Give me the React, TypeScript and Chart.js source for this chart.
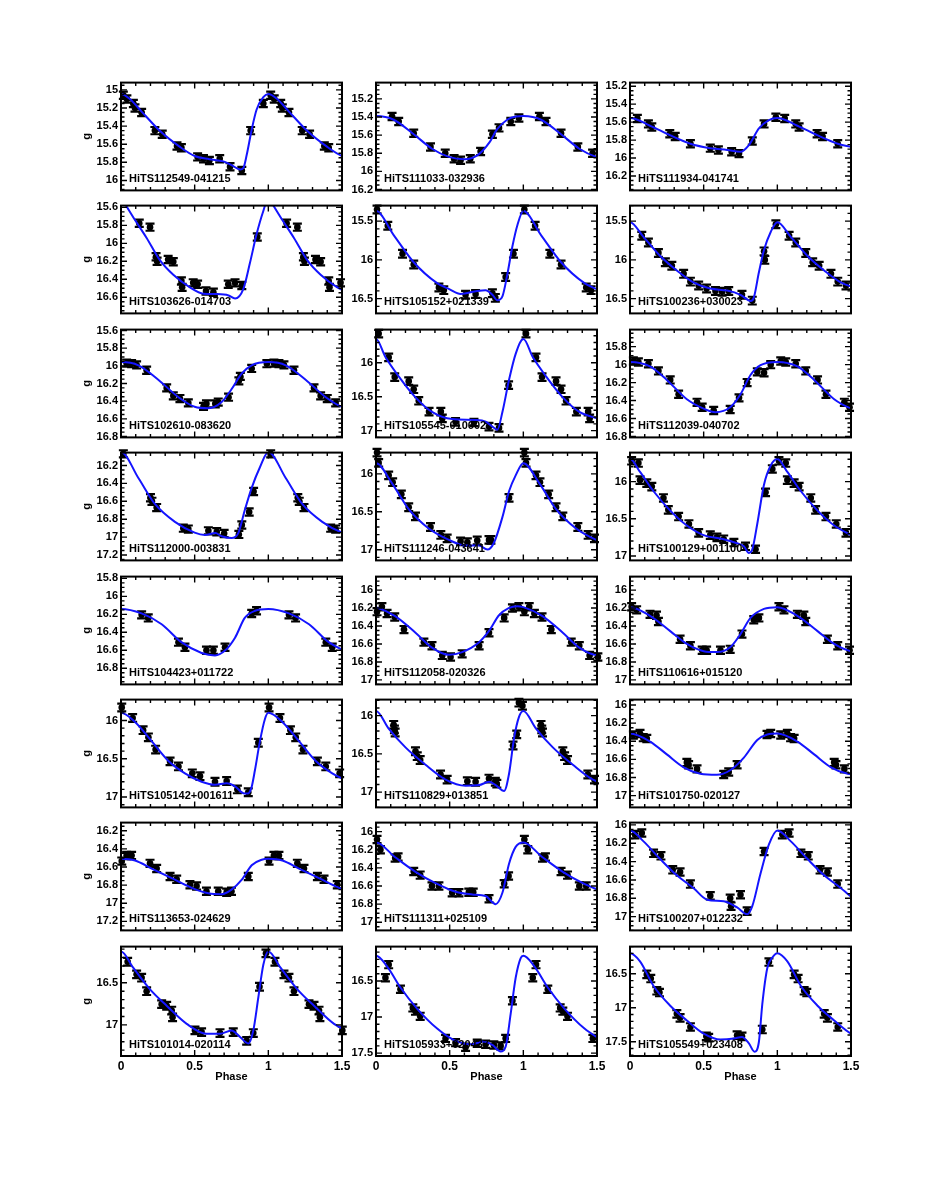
import React, { useEffect, useRef } from "react";
import { Chart, registerables } from "chart.js";

Chart.register(...registerables);

// ---------------- data ----------------
const starNames: string[] = [
  "HiTS112549-041215", "HiTS111033-032936", "HiTS111934-041741",
  "HiTS103626-014703", "HiTS105152+021339", "HiTS100236+030023",
  "HiTS102610-083620", "HiTS105545-010602", "HiTS112039-040702",
  "HiTS112000-003831", "HiTS111246-043641", "HiTS100129+001100",
  "HiTS104423+011722", "HiTS112058-020326", "HiTS110616+015120",
  "HiTS105142+001611", "HiTS110829+013851", "HiTS101750-020127",
  "HiTS113653-024629", "HiTS111311+025109", "HiTS100207+012232",
  "HiTS101014-020114", "HiTS105933+020437", "HiTS105549+023408",
];

// magnitude axis: value at the top edge, value at the bottom edge, label step
const magTop: number[] = [
  14.92, 15.02, 15.16,
  15.58, 15.3, 15.3,
  15.59, 15.51, 15.61,
  16.056, 15.72, 15.61,
  15.78, 15.85, 15.85,
  15.727, 15.79, 15.94,
  16.11, 15.9, 15.975,
  16.07, 16.023, 16.1,
];
const magBottom: number[] = [
  16.11, 16.21, 16.36,
  16.78, 16.69, 16.69,
  16.81, 17.1, 16.81,
  17.26, 17.14, 17.06,
  16.98, 17.05, 17.05,
  17.135, 17.2, 17.13,
  17.3, 17.09, 17.15,
  17.37, 17.54, 17.71,
];
const magStep: number[] = [
  0.2, 0.2, 0.2,
  0.2, 0.5, 0.5,
  0.2, 0.5, 0.2,
  0.2, 0.5, 0.5,
  0.2, 0.2, 0.2,
  0.5, 0.5, 0.2,
  0.2, 0.2, 0.2,
  0.5, 0.5, 0.5,
];
const magErr: number[] = [
  0.04, 0.04, 0.04,
  0.04, 0.05, 0.05,
  0.04, 0.055, 0.04,
  0.04, 0.05, 0.05,
  0.04, 0.04, 0.04,
  0.05, 0.05, 0.04,
  0.04, 0.04, 0.04,
  0.045, 0.05, 0.055,
];

// observed points [phase (0-1), g mag]
const observations: number[][][] = [
  [[0.016,15.06],[0.04,15.10],[0.084,15.15],[0.095,15.20],[0.14,15.25],[0.23,15.45],[0.28,15.49],[0.38,15.62],[0.41,15.64],[0.52,15.74],[0.56,15.76],[0.60,15.78],[0.67,15.76],[0.74,15.85],[0.82,15.89],[0.88,15.45],[0.966,15.15]],
  [[0.109,15.395],[0.154,15.45],[0.256,15.58],[0.37,15.73],[0.47,15.80],[0.53,15.86],[0.574,15.877],[0.64,15.86],[0.71,15.78],[0.79,15.59],[0.835,15.52],[0.915,15.45],[0.97,15.41]],
  [[0.05,15.56],[0.125,15.62],[0.148,15.655],[0.27,15.73],[0.307,15.76],[0.41,15.84],[0.545,15.89],[0.60,15.91],[0.69,15.93],[0.74,15.95],[0.83,15.81],[0.91,15.62],[0.99,15.545]],
  [[0.124,15.776],[0.197,15.82],[0.238,16.15],[0.245,16.2],[0.32,16.18],[0.355,16.205],[0.41,16.42],[0.415,16.49],[0.49,16.44],[0.52,16.455],[0.577,16.53],[0.627,16.545],[0.728,16.455],[0.774,16.44],[0.82,16.47],[0.925,15.93]],
  [[0.007,15.35],[0.08,15.56],[0.18,15.92],[0.256,16.06],[0.427,16.355],[0.46,16.39],[0.608,16.45],[0.676,16.44],[0.79,16.43],[0.81,16.49],[0.88,16.22],[0.933,15.92]],
  [[0.08,15.69],[0.125,15.775],[0.193,15.91],[0.24,16.03],[0.284,16.075],[0.364,16.18],[0.41,16.28],[0.466,16.33],[0.52,16.37],[0.58,16.40],[0.625,16.41],[0.67,16.40],[0.76,16.45],[0.83,16.525],[0.91,15.89],[0.915,16.0],[0.99,15.54]],
  [[0.038,15.97],[0.072,15.976],[0.106,15.99],[0.174,16.05],[0.31,16.25],[0.355,16.34],[0.40,16.37],[0.457,16.42],[0.56,16.46],[0.58,16.43],[0.64,16.43],[0.66,16.41],[0.73,16.355],[0.80,16.17],[0.81,16.12],[0.887,16.03],[0.99,15.976]],
  [[0.018,15.57],[0.086,15.92],[0.127,16.21],[0.222,16.27],[0.256,16.39],[0.29,16.56],[0.36,16.72],[0.44,16.72],[0.45,16.82],[0.54,16.87],[0.665,16.88],[0.767,16.94],[0.835,16.96],[0.90,16.33]],
  [[0.023,15.96],[0.057,15.97],[0.125,15.99],[0.193,16.07],[0.273,16.17],[0.33,16.33],[0.455,16.42],[0.49,16.475],[0.568,16.51],[0.68,16.5],[0.74,16.37],[0.795,16.2],[0.864,16.08],[0.91,16.09],[0.955,16.0]],
  [[0.016,16.07],[0.20,16.56],[0.21,16.60],[0.242,16.67],[0.423,16.9],[0.457,16.91],[0.593,16.93],[0.65,16.94],[0.70,16.96],[0.80,16.97],[0.82,16.865],[0.87,16.72],[0.90,16.49]],
  [[0.007,15.72],[0.018,15.856],[0.086,16.02],[0.113,16.11],[0.172,16.27],[0.222,16.44],[0.268,16.56],[0.37,16.70],[0.44,16.805],[0.483,16.85],[0.574,16.89],[0.62,16.90],[0.687,16.877],[0.767,16.87],[0.78,16.87],[0.903,16.316]],
  [[0.011,15.72],[0.057,15.75],[0.068,15.98],[0.114,16.02],[0.148,16.067],[0.227,16.22],[0.26,16.38],[0.33,16.47],[0.40,16.57],[0.466,16.69],[0.545,16.72],[0.59,16.75],[0.636,16.775],[0.705,16.82],[0.784,16.87],[0.852,16.91],[0.92,16.145],[0.966,15.83]],
  [[0.14,16.206],[0.185,16.24],[0.39,16.51],[0.434,16.567],[0.58,16.60],[0.627,16.60],[0.706,16.567],[0.887,16.19],[0.92,16.16]],
  [[0.007,16.24],[0.04,16.186],[0.075,16.26],[0.127,16.3],[0.19,16.44],[0.325,16.58],[0.38,16.62],[0.45,16.727],[0.506,16.745],[0.585,16.71],[0.70,16.62],[0.767,16.475],[0.87,16.31],[0.926,16.20],[0.97,16.186]],
  [[0.011,16.186],[0.045,16.22],[0.136,16.27],[0.18,16.28],[0.193,16.35],[0.34,16.547],[0.41,16.62],[0.49,16.67],[0.52,16.67],[0.614,16.67],[0.68,16.66],[0.76,16.49],[0.84,16.33],[0.875,16.31]],
  [[0.005,15.83],[0.079,15.967],[0.15,16.126],[0.186,16.22],[0.235,16.38],[0.333,16.534],[0.39,16.6],[0.484,16.69],[0.536,16.727],[0.638,16.80],[0.717,16.79],[0.79,16.90],[0.864,16.937],[0.932,16.29]],
  [[0.12,16.12],[0.125,16.18],[0.13,16.22],[0.268,16.465],[0.28,16.53],[0.30,16.58],[0.438,16.77],[0.483,16.837],[0.62,16.857],[0.676,16.865],[0.767,16.823],[0.81,16.865],[0.82,16.89],[0.93,16.39],[0.955,16.245],[0.97,15.83],[0.994,15.87]],
  [[0.023,16.33],[0.068,16.315],[0.09,16.36],[0.114,16.37],[0.386,16.634],[0.398,16.66],[0.455,16.705],[0.636,16.766],[0.67,16.74],[0.727,16.66],[0.93,16.325],[0.955,16.314]],
  [[0.005,16.535],[0.038,16.474],[0.072,16.474],[0.197,16.56],[0.242,16.617],[0.333,16.706],[0.378,16.735],[0.468,16.796],[0.513,16.81],[0.58,16.867],[0.66,16.867],[0.717,16.878],[0.75,16.867],[0.864,16.706]],
  [[0.007,16.086],[0.03,16.2],[0.13,16.29],[0.15,16.28],[0.256,16.44],[0.30,16.48],[0.38,16.6],[0.427,16.6],[0.517,16.675],[0.563,16.675],[0.63,16.668],[0.66,16.668],[0.767,16.74],[0.87,16.575],[0.9,16.49]],
  [[0.034,16.106],[0.08,16.088],[0.16,16.31],[0.21,16.337],[0.29,16.49],[0.34,16.514],[0.41,16.645],[0.545,16.773],[0.68,16.8],[0.686,16.886],[0.75,16.762],[0.795,16.94],[0.91,16.29]],
  [[0.045,16.25],[0.106,16.40],[0.14,16.44],[0.174,16.6],[0.276,16.754],[0.31,16.773],[0.344,16.83],[0.35,16.91],[0.502,17.066],[0.547,17.086],[0.672,17.097],[0.762,17.086],[0.853,17.19],[0.898,17.097],[0.94,16.547],[0.984,16.15]],
  [[0.064,16.455],[0.086,16.273],[0.166,16.614],[0.25,16.873],[0.268,16.918],[0.30,16.99],[0.472,17.296],[0.54,17.355],[0.608,17.418],[0.687,17.364],[0.744,17.378],[0.80,17.387],[0.846,17.4],[0.88,17.296],[0.926,16.773]],
  [[0.114,16.51],[0.141,16.57],[0.182,16.75],[0.2,16.776],[0.318,17.09],[0.34,17.148],[0.41,17.283],[0.518,17.42],[0.534,17.44],[0.727,17.404],[0.76,17.42],[0.898,17.32],[0.943,16.327]],
];

// template (model) curves [phase (0-1), g mag]
const templates: number[][][] = [
  [[0,15.045],[0.06,15.10],[0.14,15.24],[0.265,15.455],[0.40,15.63],[0.50,15.73],[0.60,15.765],[0.695,15.79],[0.75,15.83],[0.81,15.88],[0.83,15.865],[0.853,15.72],[0.887,15.44],[0.92,15.22],[0.966,15.08],[1.0,15.045]],
  [[0,15.39],[0.12,15.43],[0.256,15.59],[0.38,15.75],[0.495,15.84],[0.6,15.865],[0.69,15.82],[0.77,15.68],[0.82,15.54],[0.89,15.43],[0.95,15.395],[1.0,15.39]],
  [[0,15.555],[0.136,15.64],[0.27,15.745],[0.41,15.84],[0.545,15.89],[0.66,15.91],[0.75,15.93],[0.807,15.855],[0.875,15.67],[0.94,15.58],[1.0,15.555]],
  [[0,15.5],[0.03,15.57],[0.095,15.74],[0.174,15.94],[0.265,16.19],[0.355,16.35],[0.468,16.49],[0.56,16.56],[0.65,16.565],[0.73,16.58],[0.774,16.615],[0.83,16.51],[0.875,16.22],[0.92,15.9],[0.966,15.64],[1.0,15.5]],
  [[0,15.37],[0.12,15.68],[0.256,16.03],[0.415,16.3],[0.5,16.38],[0.574,16.44],[0.687,16.4],[0.744,16.39],[0.79,16.45],[0.824,16.52],[0.858,16.47],[0.89,16.2],[0.926,15.825],[0.96,15.55],[1.0,15.37]],
  [[0,15.515],[0.09,15.70],[0.205,15.95],[0.32,16.14],[0.43,16.29],[0.545,16.37],[0.66,16.396],[0.75,16.45],[0.82,16.53],[0.84,16.49],[0.875,16.16],[0.91,15.87],[0.955,15.64],[1.0,15.515]],
  [[0,15.958],[0.118,15.994],[0.253,16.157],[0.39,16.355],[0.5,16.463],[0.593,16.48],[0.683,16.41],[0.75,16.265],[0.82,16.085],[0.887,15.994],[1.0,15.958]],
  [[0,15.65],[0.064,15.915],[0.154,16.2],[0.268,16.51],[0.38,16.725],[0.517,16.83],[0.676,16.843],[0.744,16.867],[0.79,16.94],[0.824,16.986],[0.858,16.725],[0.903,16.25],[0.948,15.867],[1.0,15.65]],
  [[0,15.97],[0.136,16.02],[0.25,16.17],[0.386,16.385],[0.5,16.49],[0.58,16.53],[0.68,16.475],[0.75,16.33],[0.818,16.115],[0.886,16.006],[1.0,15.97]],
  [[0,16.05],[0.118,16.34],[0.23,16.63],[0.366,16.83],[0.5,16.95],[0.57,16.975],[0.64,16.955],[0.683,16.99],[0.75,17.01],[0.796,16.955],[0.84,16.7],[0.887,16.45],[0.943,16.22],[1.0,16.05]],
  [[0,15.86],[0.109,16.125],[0.222,16.465],[0.358,16.72],[0.495,16.87],[0.608,16.945],[0.7,16.945],[0.756,16.997],[0.8,16.91],[0.858,16.57],[0.903,16.23],[0.948,16.02],[1.0,15.86]],
  [[0,15.697],[0.068,15.87],[0.16,16.13],[0.273,16.39],[0.386,16.59],[0.5,16.72],[0.636,16.775],[0.727,16.83],[0.773,16.87],[0.807,16.96],[0.83,16.914],[0.864,16.567],[0.909,16.045],[0.955,15.784],[1.0,15.697]],
  [[0,16.14],[0.14,16.19],[0.276,16.31],[0.41,16.51],[0.547,16.63],[0.638,16.657],[0.706,16.603],[0.774,16.46],[0.84,16.24],[0.91,16.16],[1.0,16.14]],
  [[0,16.19],[0.13,16.29],[0.268,16.475],[0.38,16.64],[0.495,16.72],[0.585,16.69],[0.70,16.58],[0.767,16.455],[0.835,16.28],[0.9,16.2],[0.96,16.18],[1.0,16.19]],
  [[0,16.19],[0.136,16.287],[0.273,16.457],[0.386,16.6],[0.5,16.68],[0.59,16.69],[0.68,16.637],[0.75,16.49],[0.818,16.31],[0.909,16.21],[1.0,16.19]],
  [[0,15.9],[0.095,16.02],[0.208,16.27],[0.32,16.525],[0.434,16.69],[0.547,16.8],[0.638,16.84],[0.717,16.82],[0.774,16.86],[0.83,16.95],[0.86,16.955],[0.885,16.88],[0.909,16.65],[0.943,16.27],[0.977,15.98],[1.0,15.9]],
  [[0,15.94],[0.086,16.17],[0.2,16.415],[0.336,16.642],[0.472,16.836],[0.608,16.916],[0.7,16.908],[0.767,16.866],[0.812,16.908],[0.87,16.984],[0.903,16.76],[0.937,16.296],[0.97,16.02],[1.0,15.94]],
  [[0,16.314],[0.136,16.403],[0.25,16.545],[0.364,16.687],[0.477,16.758],[0.59,16.77],[0.68,16.72],[0.773,16.58],[0.864,16.385],[0.932,16.325],[1.0,16.314]],
  [[0,16.51],[0.095,16.528],[0.208,16.617],[0.344,16.724],[0.48,16.83],[0.593,16.89],[0.683,16.9],[0.75,16.85],[0.82,16.74],[0.887,16.58],[0.955,16.52],[1.0,16.51]],
  [[0,16.12],[0.13,16.282],[0.268,16.443],[0.404,16.568],[0.54,16.664],[0.653,16.693],[0.744,16.71],[0.812,16.8],[0.858,16.675],[0.903,16.354],[0.948,16.168],[1.0,16.12]],
  [[0,16.06],[0.09,16.177],[0.205,16.372],[0.318,16.55],[0.432,16.69],[0.523,16.815],[0.636,16.833],[0.727,16.9],[0.795,16.975],[0.83,16.886],[0.886,16.53],[0.943,16.213],[1.0,16.06]],
  [[0,16.128],[0.084,16.324],[0.197,16.578],[0.31,16.773],[0.446,16.988],[0.58,17.105],[0.672,17.105],[0.75,17.066],[0.808,17.144],[0.864,17.22],[0.898,17.066],[0.932,16.675],[0.966,16.285],[1.0,16.128]],
  [[0,16.15],[0.075,16.296],[0.166,16.59],[0.28,16.886],[0.415,17.16],[0.53,17.32],[0.642,17.378],[0.733,17.34],[0.79,17.387],[0.846,17.477],[0.88,17.41],[0.914,16.955],[0.948,16.455],[0.982,16.182],[1.0,16.15]],
  [[0,16.197],[0.068,16.317],[0.16,16.68],[0.273,16.97],[0.386,17.187],[0.5,17.38],[0.614,17.467],[0.705,17.453],[0.76,17.43],[0.807,17.525],[0.845,17.646],[0.875,17.5],[0.898,16.945],[0.932,16.414],[0.966,16.26],[1.0,16.197]],
];

const phaseMin = 0;
const phaseMax = 1.5;
const phaseStep = 0.5;

// ---------------- layout ----------------
const COL_LEFT = [121, 376, 630];
const ROW_TOP = [81, 204, 328, 451, 575, 698, 821, 945];
const PLOT_W = 221;
const PLOT_H = 111;
const PAD_L = 45;
const PAD_T = 8;
const PAD_R = 14;
const PAD_B = 8;
const XAXIS_H = 28;
const FONT = "Liberation Sans";
const CURVE_COLOR = "#1414ff";

const fmt = (v: any) => String(parseFloat(Number(v).toFixed(2)));

function Panel({ idx }: { idx: number }) {
  const ref = useRef<HTMLCanvasElement | null>(null);
  const row = Math.floor(idx / 3);
  const col = idx % 3;
  const isBottom = row === 7;
  const w = PAD_L + PLOT_W + PAD_R;
  const h = PAD_T + PLOT_H + (isBottom ? XAXIS_H : PAD_B);

  useEffect(() => {
    if (!ref.current) return;
    const obs = observations[idx];
    const pts: { x: number; y: number }[] = [];
    obs.forEach(([p, m]) => {
      pts.push({ x: p, y: m });
      if (p + 1 <= phaseMax + 0.01) pts.push({ x: p + 1, y: m });
    });
    const tpl = templates[idx];
    const curve: { x: number; y: number }[] = [];
    tpl.forEach(([p, m]) => { if (p >= 0.85 && p < 1) curve.push({ x: p - 1, y: m }); });
    tpl.forEach(([p, m]) => curve.push({ x: p, y: m }));
    tpl.forEach(([p, m]) => { if (p > 0 && p <= 0.62) curve.push({ x: p + 1, y: m }); });
    curve.sort((a, b) => a.x - b.x);

    const err = magErr[idx];
    const step = magStep[idx];
    const name = starNames[idx];

    const panelPlugin = {
      id: "panelDecor",
      beforeDatasetsDraw(chart: any) {
        const { ctx, scales } = chart;
        const xs = scales.x, ys = scales.y;
        ctx.save();
        ctx.strokeStyle = "#000";
        ctx.lineWidth = 2.2;
        pts.forEach((pt) => {
          const px = xs.getPixelForValue(pt.x);
          const y1 = ys.getPixelForValue(pt.y - err);
          const y2 = ys.getPixelForValue(pt.y + err);
          ctx.beginPath();
          ctx.moveTo(px, y1); ctx.lineTo(px, y2);
          ctx.moveTo(px - 4.5, y1); ctx.lineTo(px + 4.5, y1);
          ctx.moveTo(px - 4.5, y2); ctx.lineTo(px + 4.5, y2);
          ctx.stroke();
        });
        ctx.restore();
      },
      afterDraw(chart: any) {
        const { ctx, chartArea, scales } = chart;
        const { left, right, top, bottom } = chartArea;
        const xs = scales.x, ys = scales.y;
        ctx.save();
        ctx.strokeStyle = "#000";
        ctx.lineWidth = 1.4;
        ctx.beginPath();
        for (let k = 0; k <= 15; k++) {
          const v = k / 10;
          const px = xs.getPixelForValue(v);
          const len = k % 5 === 0 ? 6 : 3.5;
          ctx.moveTo(px, bottom); ctx.lineTo(px, bottom - len);
          ctx.moveTo(px, top); ctx.lineTo(px, top + len);
        }
        const nMinor = step === 0.5 ? 5 : 4;
        const ms = step / nMinor;
        const lo = Math.min(ys.min, ys.max), hi = Math.max(ys.min, ys.max);
        for (let k = Math.ceil(lo / ms - 1e-6); k * ms <= hi + 1e-9; k++) {
          const v = k * ms;
          const py = ys.getPixelForValue(v);
          const major = k % nMinor === 0;
          const len = major ? 6 : 3.5;
          ctx.moveTo(left, py); ctx.lineTo(left + len, py);
          ctx.moveTo(right, py); ctx.lineTo(right - len, py);
        }
        ctx.stroke();
        ctx.lineWidth = 2;
        ctx.strokeRect(left, top, right - left, bottom - top);
        ctx.fillStyle = "#000";
        ctx.font = `bold 11px "${FONT}"`;
        ctx.textBaseline = "alphabetic";
        ctx.textAlign = "left";
        ctx.fillText(name, left + 8, bottom - 8);
        ctx.restore();
      },
    };

    const chart = new Chart(ref.current, {
      type: "scatter",
      data: {
        datasets: [
          {
            data: curve,
            showLine: true,
            borderColor: CURVE_COLOR,
            borderWidth: 2,
            pointRadius: 0,
            cubicInterpolationMode: "monotone",
            fill: false,
          } as any,
          {
            data: pts,
            showLine: false,
            pointRadius: 3.3,
            pointBackgroundColor: "#000",
            pointBorderWidth: 0,
            clip: false,
          } as any,
        ],
      },
      options: {
        responsive: false,
        animation: false,
        devicePixelRatio: 1,
        events: [],
        layout: { padding: { left: 0, top: PAD_T, right: PAD_R, bottom: isBottom ? 0 : PAD_B } },
        plugins: { legend: { display: false }, tooltip: { enabled: false }, title: { display: false } },
        scales: {
          x: {
            type: "linear",
            min: phaseMin,
            max: phaseMax,
            display: isBottom,
            grid: { display: false, drawTicks: false },
            border: { display: false },
            ticks: {
              stepSize: phaseStep,
              padding: 3,
              autoSkip: false,
              maxRotation: 0,
              color: "#000",
              font: { family: FONT, size: 12, weight: "bold" },
              callback: fmt,
            },
            title: {
              display: true,
              text: "Phase",
              color: "#000",
              padding: 0,
              font: { family: FONT, size: 11, weight: "bold" },
            },
            afterFit: (s: any) => { s.height = isBottom ? XAXIS_H : 0; },
          },
          y: {
            type: "linear",
            reverse: true,
            min: magTop[idx],
            max: magBottom[idx],
            grid: { display: false, drawTicks: false },
            border: { display: false },
            ticks: {
              padding: 3,
              autoSkip: false,
              color: "#000",
              font: { family: FONT, size: 11, weight: "bold" },
              callback: fmt,
            },
            afterBuildTicks: (s: any) => {
              const lo = Math.min(magTop[idx], magBottom[idx]);
              const hi = Math.max(magTop[idx], magBottom[idx]);
              const t: { value: number }[] = [];
              for (let k = Math.ceil(lo / step - 1e-6); k * step <= hi + 1e-6; k++) {
                t.push({ value: Math.round(k * step * 1000) / 1000 });
              }
              s.ticks = t;
            },
            title: {
              display: col === 0,
              text: "g",
              color: "#000",
              padding: { top: 4, bottom: 0 },
              font: { family: FONT, size: 11, weight: "bold" },
            },
            afterFit: (s: any) => { s.width = PAD_L; },
          },
        },
      } as any,
      plugins: [panelPlugin as any],
    });
    return () => chart.destroy();
  }, [idx]);

  return (
    <canvas
      ref={ref}
      width={w}
      height={h}
      style={{
        position: "absolute",
        left: COL_LEFT[col] - PAD_L,
        top: ROW_TOP[row] - PAD_T,
        width: w,
        height: h,
      }}
    />
  );
}

export default function App() {
  return (
    <div style={{ position: "absolute", left: 0, top: 0, width: 926, height: 1199, background: "#fff" }}>
      {starNames.map((_, i) => (
        <Panel key={i} idx={i} />
      ))}
    </div>
  );
}
